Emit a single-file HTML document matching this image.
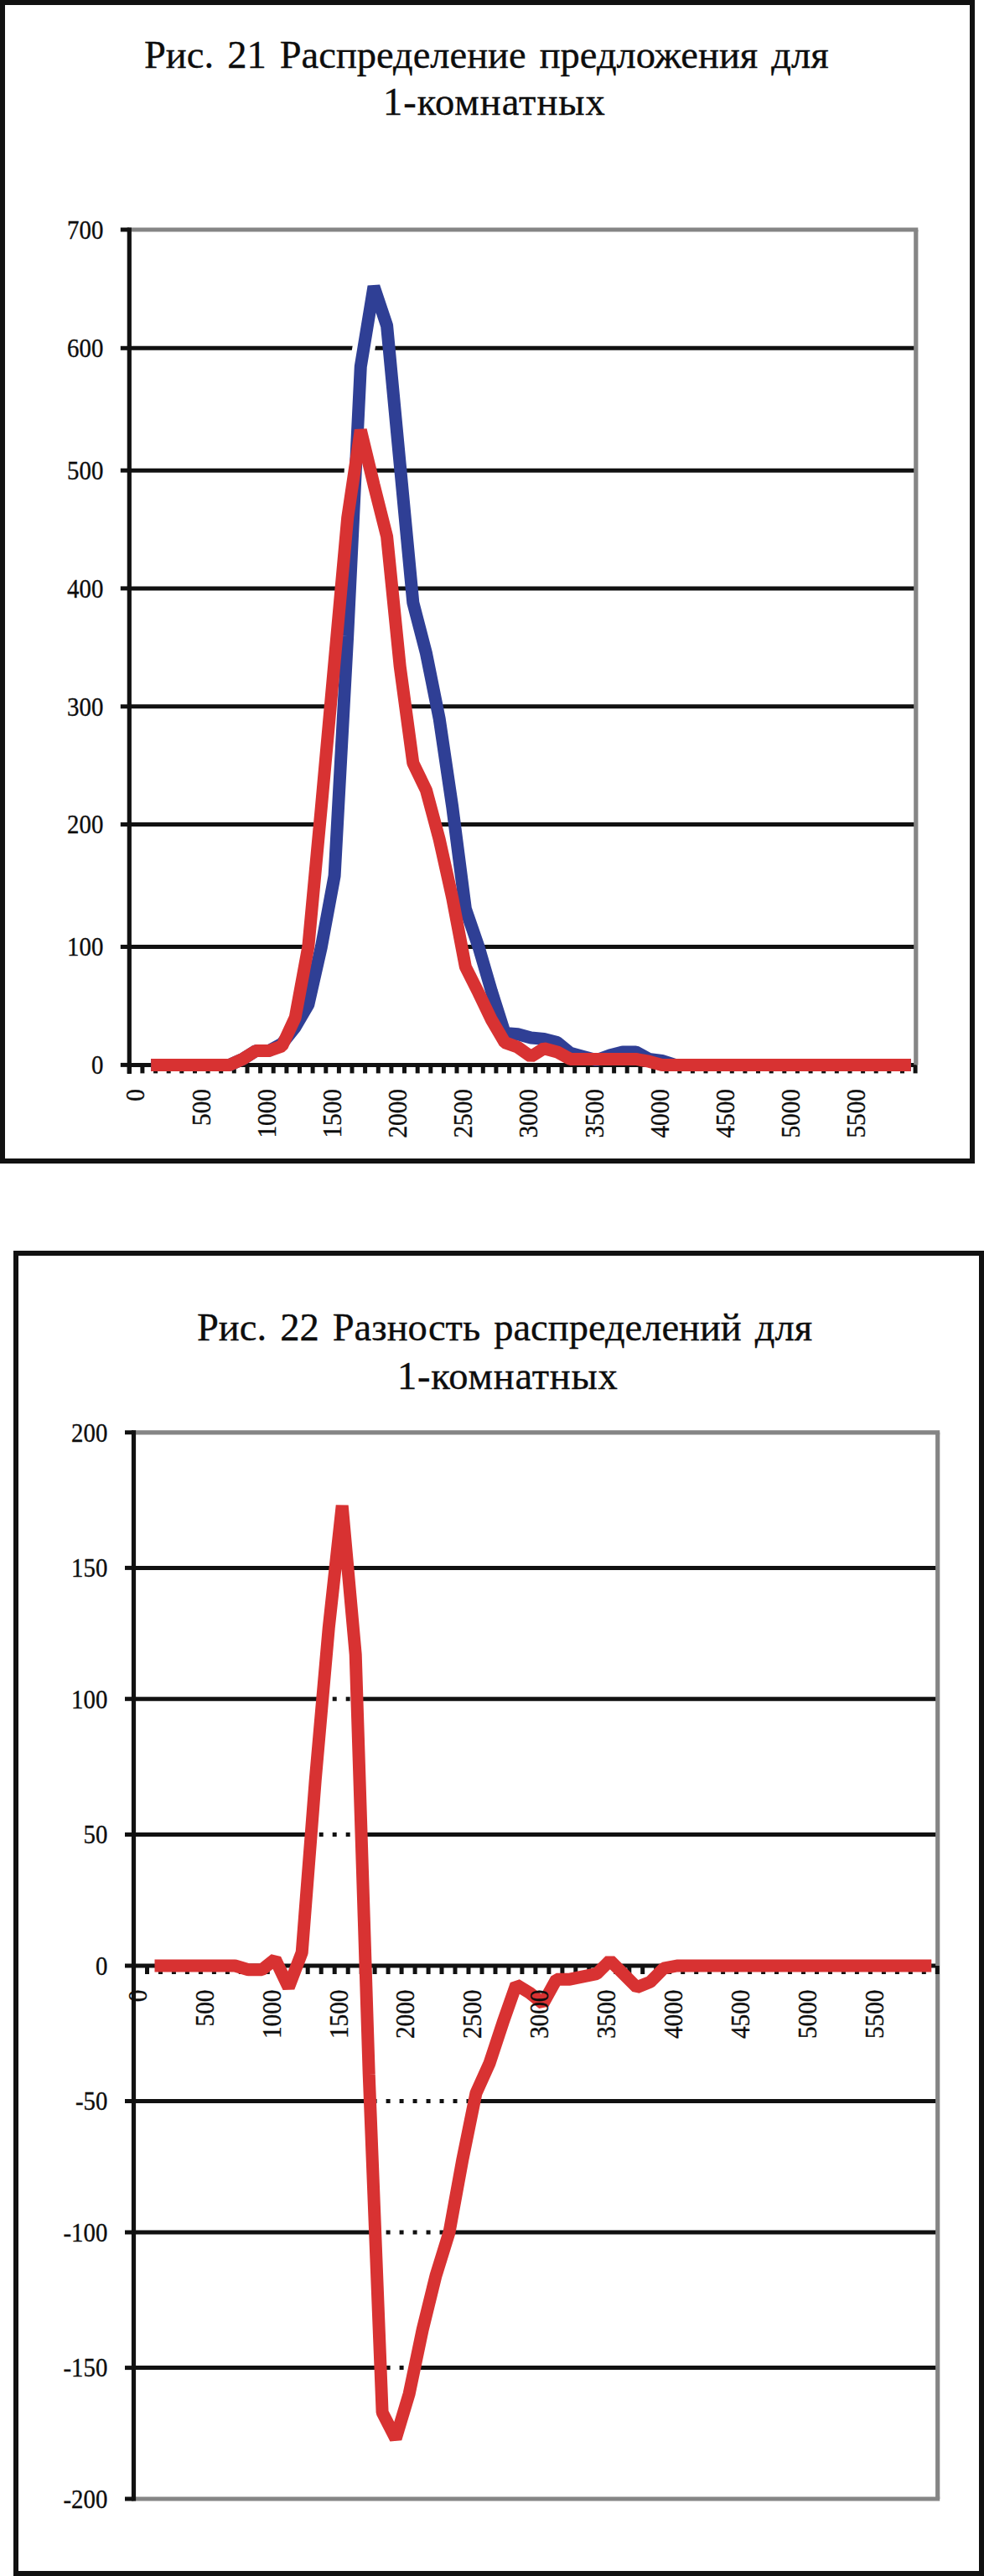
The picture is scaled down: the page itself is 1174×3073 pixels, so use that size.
<!DOCTYPE html>
<html><head><meta charset="utf-8"><style>
html,body{margin:0;padding:0;background:#fff;}
svg{display:block;}
text{font-family:"Liberation Serif", serif;fill:#0d0d0d;stroke:#0d0d0d;stroke-width:0.35px;}
</style></head><body>
<svg width="1174" height="3073" viewBox="0 0 1174 3073">
<rect x="0" y="0" width="1174" height="3073" fill="#fff"/>
<rect x="3" y="3" width="1157" height="1382" fill="none" stroke="#111" stroke-width="6"/>
<line x1="154.3" y1="1129.5" x2="1092.8" y2="1129.5" stroke="#111" stroke-width="5"/>
<line x1="154.3" y1="983.5" x2="1092.8" y2="983.5" stroke="#111" stroke-width="5"/>
<line x1="154.3" y1="842.8" x2="1092.8" y2="842.8" stroke="#111" stroke-width="5"/>
<line x1="154.3" y1="701.9" x2="1092.8" y2="701.9" stroke="#111" stroke-width="5"/>
<line x1="154.3" y1="561.2" x2="1092.8" y2="561.2" stroke="#111" stroke-width="5"/>
<line x1="154.3" y1="415.3" x2="1092.8" y2="415.3" stroke="#111" stroke-width="5"/>
<polygon points="336.5,1270.4 336.5,1247.9 352.2,1214.0 367.8,1129.5 383.4,962.4 399.1,789.3 414.7,617.5 430.3,513.1 446.0,578.1 461.6,640.0 477.2,794.9 492.8,910.3 508.5,942.7 524.1,1001.0 539.7,1071.1 555.4,1153.5 571.0,1184.5 586.6,1216.9 602.3,1243.6 617.9,1249.3 633.5,1260.5 633.5,1270.4" fill="#fff"/>
<polyline points="399.1,1044.8 414.7,758.3 430.3,437.2 446.0,341.8" fill="none" stroke="#fff" stroke-width="27" stroke-linejoin="bevel"/>
<line x1="154.3" y1="1270.4" x2="1092.8" y2="1270.4" stroke="#111" stroke-width="5"/>
<line x1="154.3" y1="274.0" x2="1095.3" y2="274.0" stroke="#858585" stroke-width="5.2"/>
<line x1="1092.8" y1="274.0" x2="1092.8" y2="1270.4" stroke="#858585" stroke-width="5.2"/>
<line x1="154.3" y1="271.5" x2="154.3" y2="1280.9" stroke="#111" stroke-width="5.2"/>
<line x1="143.8" y1="1270.4" x2="154.3" y2="1270.4" stroke="#111" stroke-width="5"/>
<line x1="143.8" y1="1129.5" x2="154.3" y2="1129.5" stroke="#111" stroke-width="5"/>
<line x1="143.8" y1="983.5" x2="154.3" y2="983.5" stroke="#111" stroke-width="5"/>
<line x1="143.8" y1="842.8" x2="154.3" y2="842.8" stroke="#111" stroke-width="5"/>
<line x1="143.8" y1="701.9" x2="154.3" y2="701.9" stroke="#111" stroke-width="5"/>
<line x1="143.8" y1="561.2" x2="154.3" y2="561.2" stroke="#111" stroke-width="5"/>
<line x1="143.8" y1="415.3" x2="154.3" y2="415.3" stroke="#111" stroke-width="5"/>
<line x1="143.8" y1="274.0" x2="154.3" y2="274.0" stroke="#111" stroke-width="5"/>
<line x1="154.3" y1="1270.4" x2="154.3" y2="1280.4" stroke="#111" stroke-width="5"/>
<line x1="169.9" y1="1270.4" x2="169.9" y2="1280.4" stroke="#111" stroke-width="5"/>
<line x1="185.6" y1="1270.4" x2="185.6" y2="1280.4" stroke="#111" stroke-width="5"/>
<line x1="201.2" y1="1270.4" x2="201.2" y2="1280.4" stroke="#111" stroke-width="5"/>
<line x1="216.8" y1="1270.4" x2="216.8" y2="1280.4" stroke="#111" stroke-width="5"/>
<line x1="232.5" y1="1270.4" x2="232.5" y2="1280.4" stroke="#111" stroke-width="5"/>
<line x1="248.1" y1="1270.4" x2="248.1" y2="1280.4" stroke="#111" stroke-width="5"/>
<line x1="263.7" y1="1270.4" x2="263.7" y2="1280.4" stroke="#111" stroke-width="5"/>
<line x1="279.3" y1="1270.4" x2="279.3" y2="1280.4" stroke="#111" stroke-width="5"/>
<line x1="295.0" y1="1270.4" x2="295.0" y2="1280.4" stroke="#111" stroke-width="5"/>
<line x1="310.6" y1="1270.4" x2="310.6" y2="1280.4" stroke="#111" stroke-width="5"/>
<line x1="326.2" y1="1270.4" x2="326.2" y2="1280.4" stroke="#111" stroke-width="5"/>
<line x1="341.9" y1="1270.4" x2="341.9" y2="1280.4" stroke="#111" stroke-width="5"/>
<line x1="357.5" y1="1270.4" x2="357.5" y2="1280.4" stroke="#111" stroke-width="5"/>
<line x1="373.1" y1="1270.4" x2="373.1" y2="1280.4" stroke="#111" stroke-width="5"/>
<line x1="388.8" y1="1270.4" x2="388.8" y2="1280.4" stroke="#111" stroke-width="5"/>
<line x1="404.4" y1="1270.4" x2="404.4" y2="1280.4" stroke="#111" stroke-width="5"/>
<line x1="420.0" y1="1270.4" x2="420.0" y2="1280.4" stroke="#111" stroke-width="5"/>
<line x1="435.6" y1="1270.4" x2="435.6" y2="1280.4" stroke="#111" stroke-width="5"/>
<line x1="451.3" y1="1270.4" x2="451.3" y2="1280.4" stroke="#111" stroke-width="5"/>
<line x1="466.9" y1="1270.4" x2="466.9" y2="1280.4" stroke="#111" stroke-width="5"/>
<line x1="482.5" y1="1270.4" x2="482.5" y2="1280.4" stroke="#111" stroke-width="5"/>
<line x1="498.2" y1="1270.4" x2="498.2" y2="1280.4" stroke="#111" stroke-width="5"/>
<line x1="513.8" y1="1270.4" x2="513.8" y2="1280.4" stroke="#111" stroke-width="5"/>
<line x1="529.4" y1="1270.4" x2="529.4" y2="1280.4" stroke="#111" stroke-width="5"/>
<line x1="545.0" y1="1270.4" x2="545.0" y2="1280.4" stroke="#111" stroke-width="5"/>
<line x1="560.7" y1="1270.4" x2="560.7" y2="1280.4" stroke="#111" stroke-width="5"/>
<line x1="576.3" y1="1270.4" x2="576.3" y2="1280.4" stroke="#111" stroke-width="5"/>
<line x1="591.9" y1="1270.4" x2="591.9" y2="1280.4" stroke="#111" stroke-width="5"/>
<line x1="607.6" y1="1270.4" x2="607.6" y2="1280.4" stroke="#111" stroke-width="5"/>
<line x1="623.2" y1="1270.4" x2="623.2" y2="1280.4" stroke="#111" stroke-width="5"/>
<line x1="638.8" y1="1270.4" x2="638.8" y2="1280.4" stroke="#111" stroke-width="5"/>
<line x1="654.5" y1="1270.4" x2="654.5" y2="1280.4" stroke="#111" stroke-width="5"/>
<line x1="670.1" y1="1270.4" x2="670.1" y2="1280.4" stroke="#111" stroke-width="5"/>
<line x1="685.7" y1="1270.4" x2="685.7" y2="1280.4" stroke="#111" stroke-width="5"/>
<line x1="701.4" y1="1270.4" x2="701.4" y2="1280.4" stroke="#111" stroke-width="5"/>
<line x1="717.0" y1="1270.4" x2="717.0" y2="1280.4" stroke="#111" stroke-width="5"/>
<line x1="732.6" y1="1270.4" x2="732.6" y2="1280.4" stroke="#111" stroke-width="5"/>
<line x1="748.2" y1="1270.4" x2="748.2" y2="1280.4" stroke="#111" stroke-width="5"/>
<line x1="763.9" y1="1270.4" x2="763.9" y2="1280.4" stroke="#111" stroke-width="5"/>
<line x1="779.5" y1="1270.4" x2="779.5" y2="1280.4" stroke="#111" stroke-width="5"/>
<line x1="795.1" y1="1270.4" x2="795.1" y2="1280.4" stroke="#111" stroke-width="5"/>
<line x1="810.8" y1="1270.4" x2="810.8" y2="1280.4" stroke="#111" stroke-width="5"/>
<line x1="826.4" y1="1270.4" x2="826.4" y2="1280.4" stroke="#111" stroke-width="5"/>
<line x1="842.0" y1="1270.4" x2="842.0" y2="1280.4" stroke="#111" stroke-width="5"/>
<line x1="857.7" y1="1270.4" x2="857.7" y2="1280.4" stroke="#111" stroke-width="5"/>
<line x1="873.3" y1="1270.4" x2="873.3" y2="1280.4" stroke="#111" stroke-width="5"/>
<line x1="888.9" y1="1270.4" x2="888.9" y2="1280.4" stroke="#111" stroke-width="5"/>
<line x1="904.5" y1="1270.4" x2="904.5" y2="1280.4" stroke="#111" stroke-width="5"/>
<line x1="920.2" y1="1270.4" x2="920.2" y2="1280.4" stroke="#111" stroke-width="5"/>
<line x1="935.8" y1="1270.4" x2="935.8" y2="1280.4" stroke="#111" stroke-width="5"/>
<line x1="951.4" y1="1270.4" x2="951.4" y2="1280.4" stroke="#111" stroke-width="5"/>
<line x1="967.1" y1="1270.4" x2="967.1" y2="1280.4" stroke="#111" stroke-width="5"/>
<line x1="982.7" y1="1270.4" x2="982.7" y2="1280.4" stroke="#111" stroke-width="5"/>
<line x1="998.3" y1="1270.4" x2="998.3" y2="1280.4" stroke="#111" stroke-width="5"/>
<line x1="1014.0" y1="1270.4" x2="1014.0" y2="1280.4" stroke="#111" stroke-width="5"/>
<line x1="1029.6" y1="1270.4" x2="1029.6" y2="1280.4" stroke="#111" stroke-width="5"/>
<line x1="1045.2" y1="1270.4" x2="1045.2" y2="1280.4" stroke="#111" stroke-width="5"/>
<line x1="1060.8" y1="1270.4" x2="1060.8" y2="1280.4" stroke="#111" stroke-width="5"/>
<line x1="1076.5" y1="1270.4" x2="1076.5" y2="1280.4" stroke="#111" stroke-width="5"/>
<line x1="1092.1" y1="1270.4" x2="1092.1" y2="1280.4" stroke="#111" stroke-width="5"/>
<polyline points="180.2,1270.4 195.9,1270.4 211.5,1270.4 227.1,1270.4 242.8,1270.4 258.4,1270.4 274.0,1270.4 289.7,1263.4 305.3,1253.5 320.9,1253.5 336.5,1245.0 352.2,1225.3 367.8,1198.5 383.4,1129.5 399.1,1044.8 414.7,758.3 430.3,437.2 446.0,341.8 461.6,388.5 477.2,553.9 492.8,718.8 508.5,779.4 524.1,856.9 539.7,962.4 555.4,1084.2 571.0,1129.5 586.6,1183.0 602.3,1232.4 617.9,1233.8 633.5,1238.0 649.1,1239.4 664.8,1243.6 680.4,1256.3 696.0,1260.5 711.7,1264.8 727.3,1259.1 742.9,1254.9 758.6,1254.9 774.2,1263.4 789.8,1265.5 805.4,1270.4 821.1,1270.4 836.7,1270.4 852.3,1270.4 868.0,1270.4 883.6,1270.4 899.2,1270.4 914.9,1270.4 930.5,1270.4 946.1,1270.4 961.7,1270.4 977.4,1270.4 993.0,1270.4 1008.6,1270.4 1024.3,1270.4 1039.9,1270.4 1055.5,1270.4 1071.2,1270.4 1086.8,1270.4" fill="none" stroke="#2f3f95" stroke-width="15" stroke-linejoin="bevel" stroke-linecap="butt"/>
<polyline points="180.2,1270.4 195.9,1270.4 211.5,1270.4 227.1,1270.4 242.8,1270.4 258.4,1270.4 274.0,1270.4 289.7,1263.4 305.3,1253.5 320.9,1253.5 336.5,1247.9 352.2,1214.0 367.8,1129.5 383.4,962.4 399.1,789.3 414.7,617.5 430.3,513.1 446.0,578.1 461.6,640.0 477.2,794.9 492.8,910.3 508.5,942.7 524.1,1001.0 539.7,1071.1 555.4,1153.5 571.0,1184.5 586.6,1216.9 602.3,1243.6 617.9,1249.3 633.5,1260.5 649.1,1250.7 664.8,1254.9 680.4,1263.4 696.0,1263.4 711.7,1263.4 727.3,1263.4 742.9,1263.4 758.6,1263.4 774.2,1266.2 789.8,1270.4 805.4,1270.4 821.1,1270.4 836.7,1270.4 852.3,1270.4 868.0,1270.4 883.6,1270.4 899.2,1270.4 914.9,1270.4 930.5,1270.4 946.1,1270.4 961.7,1270.4 977.4,1270.4 993.0,1270.4 1008.6,1270.4 1024.3,1270.4 1039.9,1270.4 1055.5,1270.4 1071.2,1270.4 1086.8,1270.4" fill="none" stroke="#d83232" stroke-width="15" stroke-linejoin="bevel" stroke-linecap="butt"/>
<text transform="translate(123.3,1281.2) scale(0.9,1)" text-anchor="end" font-size="32">0</text>
<text transform="translate(123.3,1140.3) scale(0.9,1)" text-anchor="end" font-size="32">100</text>
<text transform="translate(123.3,994.3) scale(0.9,1)" text-anchor="end" font-size="32">200</text>
<text transform="translate(123.3,853.6) scale(0.9,1)" text-anchor="end" font-size="32">300</text>
<text transform="translate(123.3,712.7) scale(0.9,1)" text-anchor="end" font-size="32">400</text>
<text transform="translate(123.3,572.0) scale(0.9,1)" text-anchor="end" font-size="32">500</text>
<text transform="translate(123.3,426.1) scale(0.9,1)" text-anchor="end" font-size="32">600</text>
<text transform="translate(123.3,284.8) scale(0.9,1)" text-anchor="end" font-size="32">700</text>
<text transform="translate(172.4,1299) rotate(-90) scale(0.96,1)" text-anchor="end" font-size="30.5">0</text>
<text transform="translate(250.6,1299) rotate(-90) scale(0.96,1)" text-anchor="end" font-size="30.5">500</text>
<text transform="translate(328.7,1299) rotate(-90) scale(0.96,1)" text-anchor="end" font-size="30.5">1000</text>
<text transform="translate(406.9,1299) rotate(-90) scale(0.96,1)" text-anchor="end" font-size="30.5">1500</text>
<text transform="translate(485.0,1299) rotate(-90) scale(0.96,1)" text-anchor="end" font-size="30.5">2000</text>
<text transform="translate(563.2,1299) rotate(-90) scale(0.96,1)" text-anchor="end" font-size="30.5">2500</text>
<text transform="translate(641.3,1299) rotate(-90) scale(0.96,1)" text-anchor="end" font-size="30.5">3000</text>
<text transform="translate(719.5,1299) rotate(-90) scale(0.96,1)" text-anchor="end" font-size="30.5">3500</text>
<text transform="translate(797.6,1299) rotate(-90) scale(0.96,1)" text-anchor="end" font-size="30.5">4000</text>
<text transform="translate(875.8,1299) rotate(-90) scale(0.96,1)" text-anchor="end" font-size="30.5">4500</text>
<text transform="translate(953.9,1299) rotate(-90) scale(0.96,1)" text-anchor="end" font-size="30.5">5000</text>
<text transform="translate(1032.1,1299) rotate(-90) scale(0.96,1)" text-anchor="end" font-size="30.5">5500</text>
<text x="172" y="80.8" font-size="46.5" word-spacing="4.5" letter-spacing="0">Рис. 21 Распределение предложения для</text>
<text x="457" y="136.5" font-size="46.5" word-spacing="0" letter-spacing="1.0">1-комнатных</text>
<rect x="19" y="1495" width="1152" height="1575" fill="none" stroke="#111" stroke-width="6"/>
<line x1="159.5" y1="2824.6" x2="1118.7" y2="2824.6" stroke="#111" stroke-width="5"/>
<line x1="159.5" y1="2663.0" x2="1118.7" y2="2663.0" stroke="#111" stroke-width="5"/>
<line x1="159.5" y1="2506.5" x2="1118.7" y2="2506.5" stroke="#111" stroke-width="5"/>
<line x1="159.5" y1="2188.5" x2="1118.7" y2="2188.5" stroke="#111" stroke-width="5"/>
<line x1="159.5" y1="2026.7" x2="1118.7" y2="2026.7" stroke="#111" stroke-width="5"/>
<line x1="159.5" y1="1870.4" x2="1118.7" y2="1870.4" stroke="#111" stroke-width="5"/>
<polygon points="360.2,2345.0 360.2,2329.3 376.2,2123.8 392.2,1942.3 408.2,1796.1 424.2,1973.6 440.2,2474.2 440.2,2345.0" fill="#fff"/>
<polygon points="440.2,2345.0 440.2,2474.2 456.1,2877.8 472.1,2909.1 488.1,2855.9 504.1,2779.4 520.0,2714.7 536.0,2663.0 552.0,2575.4 568.0,2496.8 584.0,2461.3 600.0,2412.8 615.9,2367.6 615.9,2345.0" fill="#fff"/>
<clipPath id="clip1"><polygon points="360.2,2345.0 360.2,2329.3 376.2,2123.8 392.2,1942.3 408.2,1796.1 424.2,1973.6 440.2,2474.2 440.2,2345.0"/><polygon points="440.2,2345.0 440.2,2474.2 456.1,2877.8 472.1,2909.1 488.1,2855.9 504.1,2779.4 520.0,2714.7 536.0,2663.0 552.0,2575.4 568.0,2496.8 584.0,2461.3 600.0,2412.8 615.9,2367.6 615.9,2345.0"/></clipPath>
<g clip-path="url(#clip1)">
<line x1="157.0" y1="2824.6" x2="1118.7" y2="2824.6" stroke="#111" stroke-width="5" stroke-dasharray="5 10.98"/>
<line x1="157.0" y1="2663.0" x2="1118.7" y2="2663.0" stroke="#111" stroke-width="5" stroke-dasharray="5 10.98"/>
<line x1="157.0" y1="2506.5" x2="1118.7" y2="2506.5" stroke="#111" stroke-width="5" stroke-dasharray="5 10.98"/>
<line x1="157.0" y1="2188.5" x2="1118.7" y2="2188.5" stroke="#111" stroke-width="5" stroke-dasharray="5 10.98"/>
<line x1="157.0" y1="2026.7" x2="1118.7" y2="2026.7" stroke="#111" stroke-width="5" stroke-dasharray="5 10.98"/>
<line x1="157.0" y1="1870.4" x2="1118.7" y2="1870.4" stroke="#111" stroke-width="5" stroke-dasharray="5 10.98"/>
</g>
<line x1="159.5" y1="2345.0" x2="1118.7" y2="2345.0" stroke="#111" stroke-width="5"/>
<line x1="159.5" y1="1708.8" x2="1121.2" y2="1708.8" stroke="#858585" stroke-width="5.2"/>
<line x1="1118.7" y1="1708.8" x2="1118.7" y2="2981.0" stroke="#858585" stroke-width="5.2"/>
<line x1="159.5" y1="2981.0" x2="1121.2" y2="2981.0" stroke="#858585" stroke-width="5.2"/>
<line x1="159.5" y1="1706.3" x2="159.5" y2="2983.5" stroke="#111" stroke-width="5.2"/>
<line x1="149.0" y1="2981.0" x2="159.5" y2="2981.0" stroke="#111" stroke-width="5"/>
<line x1="149.0" y1="2824.6" x2="159.5" y2="2824.6" stroke="#111" stroke-width="5"/>
<line x1="149.0" y1="2663.0" x2="159.5" y2="2663.0" stroke="#111" stroke-width="5"/>
<line x1="149.0" y1="2506.5" x2="159.5" y2="2506.5" stroke="#111" stroke-width="5"/>
<line x1="149.0" y1="2345.0" x2="159.5" y2="2345.0" stroke="#111" stroke-width="5"/>
<line x1="149.0" y1="2188.5" x2="159.5" y2="2188.5" stroke="#111" stroke-width="5"/>
<line x1="149.0" y1="2026.7" x2="159.5" y2="2026.7" stroke="#111" stroke-width="5"/>
<line x1="149.0" y1="1870.4" x2="159.5" y2="1870.4" stroke="#111" stroke-width="5"/>
<line x1="149.0" y1="1708.8" x2="159.5" y2="1708.8" stroke="#111" stroke-width="5"/>
<line x1="159.5" y1="2345.0" x2="159.5" y2="2355.0" stroke="#111" stroke-width="5"/>
<line x1="175.5" y1="2345.0" x2="175.5" y2="2355.0" stroke="#111" stroke-width="5"/>
<line x1="191.5" y1="2345.0" x2="191.5" y2="2355.0" stroke="#111" stroke-width="5"/>
<line x1="207.4" y1="2345.0" x2="207.4" y2="2355.0" stroke="#111" stroke-width="5"/>
<line x1="223.4" y1="2345.0" x2="223.4" y2="2355.0" stroke="#111" stroke-width="5"/>
<line x1="239.4" y1="2345.0" x2="239.4" y2="2355.0" stroke="#111" stroke-width="5"/>
<line x1="255.4" y1="2345.0" x2="255.4" y2="2355.0" stroke="#111" stroke-width="5"/>
<line x1="271.4" y1="2345.0" x2="271.4" y2="2355.0" stroke="#111" stroke-width="5"/>
<line x1="287.3" y1="2345.0" x2="287.3" y2="2355.0" stroke="#111" stroke-width="5"/>
<line x1="303.3" y1="2345.0" x2="303.3" y2="2355.0" stroke="#111" stroke-width="5"/>
<line x1="319.3" y1="2345.0" x2="319.3" y2="2355.0" stroke="#111" stroke-width="5"/>
<line x1="335.3" y1="2345.0" x2="335.3" y2="2355.0" stroke="#111" stroke-width="5"/>
<line x1="351.3" y1="2345.0" x2="351.3" y2="2355.0" stroke="#111" stroke-width="5"/>
<line x1="367.2" y1="2345.0" x2="367.2" y2="2355.0" stroke="#111" stroke-width="5"/>
<line x1="383.2" y1="2345.0" x2="383.2" y2="2355.0" stroke="#111" stroke-width="5"/>
<line x1="399.2" y1="2345.0" x2="399.2" y2="2355.0" stroke="#111" stroke-width="5"/>
<line x1="415.2" y1="2345.0" x2="415.2" y2="2355.0" stroke="#111" stroke-width="5"/>
<line x1="431.2" y1="2345.0" x2="431.2" y2="2355.0" stroke="#111" stroke-width="5"/>
<line x1="447.1" y1="2345.0" x2="447.1" y2="2355.0" stroke="#111" stroke-width="5"/>
<line x1="463.1" y1="2345.0" x2="463.1" y2="2355.0" stroke="#111" stroke-width="5"/>
<line x1="479.1" y1="2345.0" x2="479.1" y2="2355.0" stroke="#111" stroke-width="5"/>
<line x1="495.1" y1="2345.0" x2="495.1" y2="2355.0" stroke="#111" stroke-width="5"/>
<line x1="511.1" y1="2345.0" x2="511.1" y2="2355.0" stroke="#111" stroke-width="5"/>
<line x1="527.0" y1="2345.0" x2="527.0" y2="2355.0" stroke="#111" stroke-width="5"/>
<line x1="543.0" y1="2345.0" x2="543.0" y2="2355.0" stroke="#111" stroke-width="5"/>
<line x1="559.0" y1="2345.0" x2="559.0" y2="2355.0" stroke="#111" stroke-width="5"/>
<line x1="575.0" y1="2345.0" x2="575.0" y2="2355.0" stroke="#111" stroke-width="5"/>
<line x1="591.0" y1="2345.0" x2="591.0" y2="2355.0" stroke="#111" stroke-width="5"/>
<line x1="606.9" y1="2345.0" x2="606.9" y2="2355.0" stroke="#111" stroke-width="5"/>
<line x1="622.9" y1="2345.0" x2="622.9" y2="2355.0" stroke="#111" stroke-width="5"/>
<line x1="638.9" y1="2345.0" x2="638.9" y2="2355.0" stroke="#111" stroke-width="5"/>
<line x1="654.9" y1="2345.0" x2="654.9" y2="2355.0" stroke="#111" stroke-width="5"/>
<line x1="670.9" y1="2345.0" x2="670.9" y2="2355.0" stroke="#111" stroke-width="5"/>
<line x1="686.8" y1="2345.0" x2="686.8" y2="2355.0" stroke="#111" stroke-width="5"/>
<line x1="702.8" y1="2345.0" x2="702.8" y2="2355.0" stroke="#111" stroke-width="5"/>
<line x1="718.8" y1="2345.0" x2="718.8" y2="2355.0" stroke="#111" stroke-width="5"/>
<line x1="734.8" y1="2345.0" x2="734.8" y2="2355.0" stroke="#111" stroke-width="5"/>
<line x1="750.8" y1="2345.0" x2="750.8" y2="2355.0" stroke="#111" stroke-width="5"/>
<line x1="766.7" y1="2345.0" x2="766.7" y2="2355.0" stroke="#111" stroke-width="5"/>
<line x1="782.7" y1="2345.0" x2="782.7" y2="2355.0" stroke="#111" stroke-width="5"/>
<line x1="798.7" y1="2345.0" x2="798.7" y2="2355.0" stroke="#111" stroke-width="5"/>
<line x1="814.7" y1="2345.0" x2="814.7" y2="2355.0" stroke="#111" stroke-width="5"/>
<line x1="830.7" y1="2345.0" x2="830.7" y2="2355.0" stroke="#111" stroke-width="5"/>
<line x1="846.6" y1="2345.0" x2="846.6" y2="2355.0" stroke="#111" stroke-width="5"/>
<line x1="862.6" y1="2345.0" x2="862.6" y2="2355.0" stroke="#111" stroke-width="5"/>
<line x1="878.6" y1="2345.0" x2="878.6" y2="2355.0" stroke="#111" stroke-width="5"/>
<line x1="894.6" y1="2345.0" x2="894.6" y2="2355.0" stroke="#111" stroke-width="5"/>
<line x1="910.6" y1="2345.0" x2="910.6" y2="2355.0" stroke="#111" stroke-width="5"/>
<line x1="926.5" y1="2345.0" x2="926.5" y2="2355.0" stroke="#111" stroke-width="5"/>
<line x1="942.5" y1="2345.0" x2="942.5" y2="2355.0" stroke="#111" stroke-width="5"/>
<line x1="958.5" y1="2345.0" x2="958.5" y2="2355.0" stroke="#111" stroke-width="5"/>
<line x1="974.5" y1="2345.0" x2="974.5" y2="2355.0" stroke="#111" stroke-width="5"/>
<line x1="990.5" y1="2345.0" x2="990.5" y2="2355.0" stroke="#111" stroke-width="5"/>
<line x1="1006.4" y1="2345.0" x2="1006.4" y2="2355.0" stroke="#111" stroke-width="5"/>
<line x1="1022.4" y1="2345.0" x2="1022.4" y2="2355.0" stroke="#111" stroke-width="5"/>
<line x1="1038.4" y1="2345.0" x2="1038.4" y2="2355.0" stroke="#111" stroke-width="5"/>
<line x1="1054.4" y1="2345.0" x2="1054.4" y2="2355.0" stroke="#111" stroke-width="5"/>
<line x1="1070.4" y1="2345.0" x2="1070.4" y2="2355.0" stroke="#111" stroke-width="5"/>
<line x1="1086.3" y1="2345.0" x2="1086.3" y2="2355.0" stroke="#111" stroke-width="5"/>
<line x1="1102.3" y1="2345.0" x2="1102.3" y2="2355.0" stroke="#111" stroke-width="5"/>
<line x1="1118.3" y1="2345.0" x2="1118.3" y2="2355.0" stroke="#111" stroke-width="5"/>
<polyline points="184.5,2345.0 200.4,2345.0 216.4,2345.0 232.4,2345.0 248.4,2345.0 264.4,2345.0 280.4,2345.0 296.3,2349.8 312.3,2349.8 328.3,2337.2 344.3,2370.8 360.2,2329.3 376.2,2123.8 392.2,1942.3 408.2,1796.1 424.2,1973.6 440.2,2474.2 456.1,2877.8 472.1,2909.1 488.1,2855.9 504.1,2779.4 520.0,2714.7 536.0,2663.0 552.0,2575.4 568.0,2496.8 584.0,2461.3 600.0,2412.8 615.9,2367.6 631.9,2377.3 647.9,2390.2 663.9,2361.2 679.9,2361.2 695.8,2357.9 711.8,2354.7 727.8,2338.7 743.8,2354.7 759.8,2370.8 775.7,2364.4 791.7,2348.2 807.7,2345.0 823.7,2345.0 839.6,2345.0 855.6,2345.0 871.6,2345.0 887.6,2345.0 903.6,2345.0 919.6,2345.0 935.5,2345.0 951.5,2345.0 967.5,2345.0 983.5,2345.0 999.5,2345.0 1015.4,2345.0 1031.4,2345.0 1047.4,2345.0 1063.4,2345.0 1079.3,2345.0 1095.3,2345.0 1111.3,2345.0" fill="none" stroke="#d83232" stroke-width="15" stroke-linejoin="bevel" stroke-linecap="butt"/>
<text transform="translate(128.3,2991.8) scale(0.9,1)" text-anchor="end" font-size="32">-200</text>
<text transform="translate(128.3,2835.4) scale(0.9,1)" text-anchor="end" font-size="32">-150</text>
<text transform="translate(128.3,2673.8) scale(0.9,1)" text-anchor="end" font-size="32">-100</text>
<text transform="translate(128.3,2517.3) scale(0.9,1)" text-anchor="end" font-size="32">-50</text>
<text transform="translate(128.3,2355.8) scale(0.9,1)" text-anchor="end" font-size="32">0</text>
<text transform="translate(128.3,2199.3) scale(0.9,1)" text-anchor="end" font-size="32">50</text>
<text transform="translate(128.3,2037.5) scale(0.9,1)" text-anchor="end" font-size="32">100</text>
<text transform="translate(128.3,1881.2) scale(0.9,1)" text-anchor="end" font-size="32">150</text>
<text transform="translate(128.3,1719.6) scale(0.9,1)" text-anchor="end" font-size="32">200</text>
<text transform="translate(174.8,2373.5) rotate(-90) scale(0.96,1)" text-anchor="end" font-size="30.5">0</text>
<text transform="translate(254.7,2373.5) rotate(-90) scale(0.96,1)" text-anchor="end" font-size="30.5">500</text>
<text transform="translate(334.6,2373.5) rotate(-90) scale(0.96,1)" text-anchor="end" font-size="30.5">1000</text>
<text transform="translate(414.5,2373.5) rotate(-90) scale(0.96,1)" text-anchor="end" font-size="30.5">1500</text>
<text transform="translate(494.4,2373.5) rotate(-90) scale(0.96,1)" text-anchor="end" font-size="30.5">2000</text>
<text transform="translate(574.3,2373.5) rotate(-90) scale(0.96,1)" text-anchor="end" font-size="30.5">2500</text>
<text transform="translate(654.2,2373.5) rotate(-90) scale(0.96,1)" text-anchor="end" font-size="30.5">3000</text>
<text transform="translate(734.1,2373.5) rotate(-90) scale(0.96,1)" text-anchor="end" font-size="30.5">3500</text>
<text transform="translate(814.0,2373.5) rotate(-90) scale(0.96,1)" text-anchor="end" font-size="30.5">4000</text>
<text transform="translate(893.9,2373.5) rotate(-90) scale(0.96,1)" text-anchor="end" font-size="30.5">4500</text>
<text transform="translate(973.8,2373.5) rotate(-90) scale(0.96,1)" text-anchor="end" font-size="30.5">5000</text>
<text transform="translate(1053.7,2373.5) rotate(-90) scale(0.96,1)" text-anchor="end" font-size="30.5">5500</text>
<text x="235" y="1598.8" font-size="46.5" word-spacing="4.5" letter-spacing="0">Рис. 22 Разность распределений для</text>
<text x="474" y="1656.5" font-size="46.5" word-spacing="0" letter-spacing="0.8">1-комнатных</text>
</svg></body></html>
